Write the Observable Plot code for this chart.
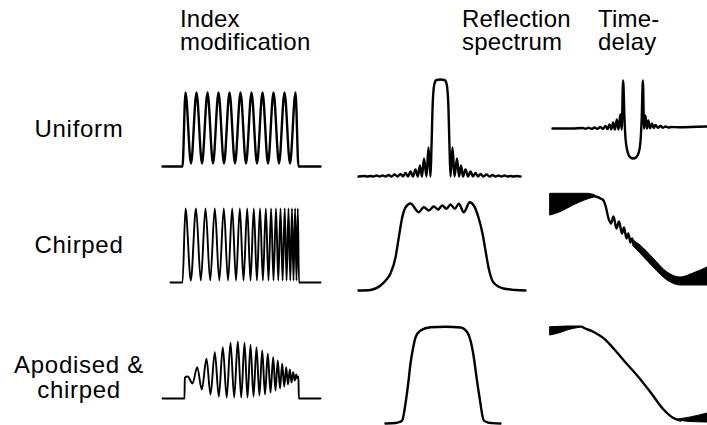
<!DOCTYPE html>
<html><head><meta charset="utf-8">
<script src="https://cdn.jsdelivr.net/npm/d3@7"></script>
<script src="https://cdn.jsdelivr.net/npm/@observablehq/plot@0.6"></script>
<style>
html,body{margin:0;padding:0;background:#fff;}
#fig{position:relative;width:707px;height:425px;background:#fff;overflow:hidden;font-family:"Liberation Sans",Arial,Helvetica,sans-serif;color:#000;}
.hdr{position:absolute;font-size:24px;line-height:23px;white-space:pre;letter-spacing:0.2px;}
.row{position:absolute;font-size:24px;line-height:25px;white-space:pre;text-align:center;transform:translateX(-50%);letter-spacing:0.7px;}
</style></head><body><div id="fig"></div>
<script>
// ---- text ----
const columnHeaders = ["Index\nmodification", "Reflection\nspectrum", "Time-\ndelay"];
const rowLabels = ["Uniform", "Chirped", "Apodised &\nchirped"];

// ---- index modification (position along grating a.u., Δn a.u.) ----
const uniformIndex = [[0,0],[20,0],[23,74],[28.5,3],[34,74],[39.5,3],[45,74],[50.5,3],[56,74],[61.5,3],[67,74],[72.5,3],[78,74],[83.5,3],[89,74],[94.5,3],[100,74],[105.5,3],[111,74],[116.5,3],[122,74],[127.5,3],[133,74],[136,0],[158,0]];
const chirpedIndex = [[8,0],[20,0],[23,74],[28.3,2],[33.5,74],[38.3,2],[43,74],[47.7,2],[52.3,74],[56.8,2],[61.3,74],[65.5,2],[69.7,74],[73.5,2],[77.3,74],[81,2],[84.7,74],[88,2],[91.3,74],[94.4,2],[97.5,74],[100.4,2],[103.3,74],[106,2],[108.6,74],[111,2],[113.5,74],[115.8,2],[118,74],[120.1,2],[122.2,74],[124.1,2],[126,74],[127.8,2],[129.5,74],[131,2],[132.6,74],[134,2],[135.3,74],[136.5,0],[158,0]];
const apodisedIndex = [[0,0],[22,0],[22.3,21],[25.3,22],[30,15],[34.7,31.3],[39.3,9],[44,39.7],[48,4],[52.3,46.3],[56.3,2],[60.3,51.3],[64.2,1],[68,55.7],[71.7,1],[75.3,57],[78.7,1],[82,55.7],[85,1],[88,53.7],[91,2],[94,51.3],[96.9,3],[99.7,48],[102.5,4],[105.3,44.7],[108,6],[110.7,41.3],[113,8],[115.3,38],[117.5,10],[119.7,34.7],[121.7,12],[123.7,31.3],[125.5,14],[127.3,29],[129,16],[130.7,26.3],[132.2,18],[133.7,24],[135,20],[136,22],[136.3,0],[158,0]];

// ---- reflection spectrum (wavelength a.u., reflectivity a.u.) ----
const uniformReflection = [[0,0],[6,0.5],[9,0],[12,0.5],[15,0],[18,1],[21,0],[24,1],[27,0],[30,1.5],[33,0],[36,2],[39,0],[42,2.5],[44.5,0],[47,3.5],[49.5,0],[52,5],[54.5,0],[57,7],[59.3,0],[61.5,11],[63.5,0],[65.5,18],[68,0],[70,29],[72,0],[73,30],[74.3,75],[76,93],[78,96.5],[82,97],[86,96.5],[88,93],[89.7,75],[91,30],[92,0],[94,29],[96,0],[98.5,18],[100.5,0],[102.5,11],[104.5,0],[107,7],[109.5,0],[112,5],[114.5,0],[117,3.5],[119.5,0],[122,2.5],[125,0],[128,2],[131,0],[134,1.5],[137,0],[140,1],[143,0],[146,1],[149,0],[152,0.5],[155,0],[158,0.5],[162,0]];
const chirpedReflection = [[0,0],[12,0.5],[22,5],[28,11],[32,17],[37,33],[40.3,53],[43.7,73],[47,83],[52,87],[60.3,78.3],[65.3,83.3],[70.3,80],[75.3,84],[79.7,81],[83.7,85],[88,81.7],[92,86],[96.3,81.7],[100.3,86.7],[105.3,78.3],[111.3,88.3],[115.3,85],[120,73],[124,57],[127,40],[130,23],[135,8],[145,2],[157,0.5],[167,0]];
const apodisedReflection = [[5,0],[15,0.5],[19,1.5],[21.7,3],[25,20],[27.7,40],[30,60],[32.7,76],[35,86],[40,93],[50,96.3],[65,96.7],[80,96],[86.7,91.3],[90,83],[93.3,66.3],[96,46.3],[99,26.3],[103.3,3],[107,1.2],[112,0.4],[120,0]];

// ---- time delay (wavelength a.u., delay a.u.) ----
const uniformDelay = [[0,0],[20,0],[30,0.5],[33,-0.3],[36,0.7],[39,-0.3],[42,1],[45,-0.4],[48,1.5],[50.5,-0.5],[53,2.5],[55,-0.6],[57,4],[58.8,-0.8],[60.7,6],[62.4,-1],[64.3,9],[66,-1],[67.8,14],[69.2,-1],[70.6,48],[72,10],[73,-10],[75,-23],[78,-29],[80.7,-30],[83.5,-29],[86.5,-23],[88.2,-10],[89.2,10],[90.4,48],[91.6,0],[92.9,13],[94.4,0],[95.8,8],[97.5,0.3],[99.5,5],[101.2,0.5],[103,3.5],[105.5,0.7],[108,2.5],[110.5,0.8],[113,2],[116,1],[119,1.5],[126,1.2],[155,2]];
const chirpedDelayStartBand = [[0,75,96.7],[10,78.3,96.7],[23,85,96.7],[37,91,96.7],[45,93.3,95]];
const chirpedDelay = [[45,94],[47,93.5],[50,92],[53,90],[55,85],[58,72],[60.5,67],[63,74],[66,62],[68.5,69],[71.5,57],[73.5,63],[76,52],[77.8,57],[80,48],[81.5,52],[83,47]];
const chirpedDelayEndBand = [[83,44,50],[90,37,45],[103,23,32],[117,10,18],[130,5,13],[143,5,17],[157,5,23]];
const apodisedDelayStartBand = [[0,88,96.3],[10,90.5,96.7],[17,93,97],[25,95,97],[32,96,97]];
const apodisedDelay = [[32,96.5],[33.3,95.7],[41.7,92.3],[55,83.7],[63.3,74.7],[73.3,63],[86.7,48],[100,31.3],[113.3,13.7],[122,6],[130,3]];
const apodisedDelayEndBand = [[128,3,4],[140,1.5,6],[157,1,10]];

// ---- layout ----
const fig = document.getElementById("fig");
const headerLeft = [180, 462, 598];
columnHeaders.forEach((t, i) => {
  const d = document.createElement("div");
  d.className = "hdr"; d.textContent = t;
  d.style.left = headerLeft[i] + "px"; d.style.top = "7px";
  fig.appendChild(d);
});
const rowCenterX = 79, rowTop = [116, 232, 352];
rowLabels.forEach((t, i) => {
  const d = document.createElement("div");
  d.className = "row"; d.textContent = t;
  d.style.left = rowCenterX + "px"; d.style.top = rowTop[i] + "px";
  fig.appendChild(d);
});

const lineOpts = {x: d => d[0], y: d => d[1], curve: "monotone-x", stroke: "#000", strokeWidth: 2.4, strokeLinejoin: "round"};
const bandOpts = {x: d => d[0], y1: d => d[1], y2: d => d[2], curve: "monotone-x", fill: "#000", stroke: "#000", strokeWidth: 1};

function mount(spec, marks) {
  const pad = 4;
  const svg = Plot.plot({
    width: spec.w + 2 * pad, height: spec.h + 2 * pad,
    marginTop: pad, marginRight: pad, marginBottom: pad, marginLeft: pad,
    x: {domain: spec.x, axis: null},
    y: {domain: spec.y, axis: null},
    style: {background: "transparent", overflow: "visible"},
    marks
  });
  svg.style.position = "absolute";
  svg.style.left = (spec.left - pad) + "px";
  svg.style.top = (spec.top - pad) + "px";
  fig.appendChild(svg);
}

mount({left: 162, top: 92, w: 158, h: 74, x: [0, 158], y: [0, 74]}, [Plot.line(uniformIndex, lineOpts)]);
mount({left: 162, top: 208, w: 158, h: 74, x: [0, 158], y: [0, 74]}, [Plot.line(chirpedIndex, {...lineOpts, strokeWidth: 1.9})]);
mount({left: 162, top: 341, w: 158, h: 57, x: [0, 158], y: [0, 57]}, [Plot.line(apodisedIndex, {...lineOpts, strokeWidth: 1.9})]);

mount({left: 358, top: 79, w: 162, h: 97, x: [0, 162], y: [0, 97]}, [Plot.line(uniformReflection, lineOpts)]);
mount({left: 358, top: 193, w: 167, h: 97, x: [0, 167], y: [0, 97]}, [Plot.line(chirpedReflection, lineOpts)]);
mount({left: 380, top: 323, w: 120, h: 100, x: [0, 120], y: [0, 100]}, [Plot.line(apodisedReflection, lineOpts)]);

mount({left: 552, top: 80, w: 155, h: 78, x: [0, 155], y: [-30, 48]}, [Plot.line(uniformDelay, lineOpts)]);
mount({left: 550, top: 193, w: 157, h: 97, x: [0, 157], y: [0, 97]}, [
  Plot.areaY(chirpedDelayStartBand, bandOpts),
  Plot.line(chirpedDelay, lineOpts),
  Plot.areaY(chirpedDelayEndBand, bandOpts)
]);
mount({left: 550, top: 323, w: 157, h: 100, x: [0, 157], y: [0, 100]}, [
  Plot.areaY(apodisedDelayStartBand, bandOpts),
  Plot.line(apodisedDelay, lineOpts),
  Plot.areaY(apodisedDelayEndBand, bandOpts)
]);
</script></body></html>
